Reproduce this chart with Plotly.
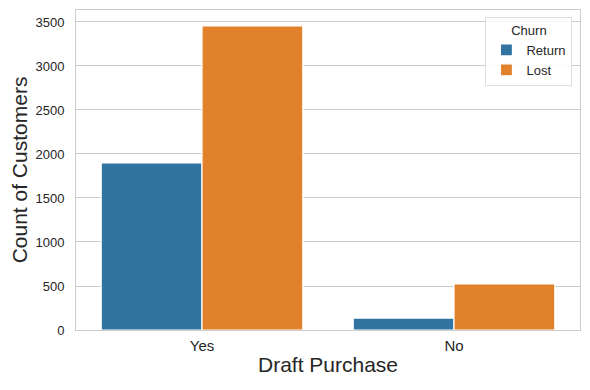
import plotly.graph_objects as go

categories = ["Yes", "No"]
series_names = ["Return", "Lost"]
return_counts = [1898, 136]
lost_counts = [3455, 523]
colors = ["#3274a1", "#e1812c"]
y_ticks = [0, 500, 1000, 1500, 2000, 2500, 3000, 3500]

fig = go.Figure()
for name, vals, col in zip(series_names, [return_counts, lost_counts], colors):
    fig.add_trace(go.Bar(
        x=categories, y=vals, name=name,
        marker=dict(color=col, line=dict(color="white", width=1.2)),
    ))

# page body has an 8px default margin, so the figure is offset by 8px
font_family = "Liberation Sans, Arial, sans-serif"
fig.update_layout(
    width=582, height=382,
    margin=dict(l=68, r=10, t=2, b=60, autoexpand=False),
    plot_bgcolor="white", paper_bgcolor="white",
    barmode="group", bargap=0.2, bargroupgap=0,
    font=dict(family=font_family, color="#262626"),
    legend=dict(
        title=dict(text="Churn", side="top center", font=dict(size=13, color="#262626")),
        font=dict(size=13, color="#262626"),
        x=0.985, xanchor="right", y=0.978, yanchor="top",
        bordercolor="#dddddd", borderwidth=1, bgcolor="rgba(255,255,255,0.85)",
        itemwidth=30, tracegroupgap=0,
    ),
    xaxis=dict(
        title=dict(text="Draft Purchase", font=dict(size=21, color="#262626"), standoff=4),
        tickfont=dict(size=15, color="#262626"),
        showline=True, linecolor="#cccccc", linewidth=1, mirror=True,
        showgrid=False, ticks="", range=[-0.5, 1.5], automargin=False,
        ticklabelstandoff=2,
    ),
    yaxis=dict(
        title=dict(text="Count of Customers", font=dict(size=21, color="#262626"), standoff=6),
        tickfont=dict(size=13, color="#262626"),
        tickvals=y_ticks,
        range=[0, 3636],
        showline=True, linecolor="#cccccc", linewidth=1, mirror=True,
        showgrid=True, gridcolor="#cccccc", gridwidth=1,
        zeroline=False, ticks="", ticklabelstandoff=8, automargin=False,
    ),
)

fig.write_html("out.html")
